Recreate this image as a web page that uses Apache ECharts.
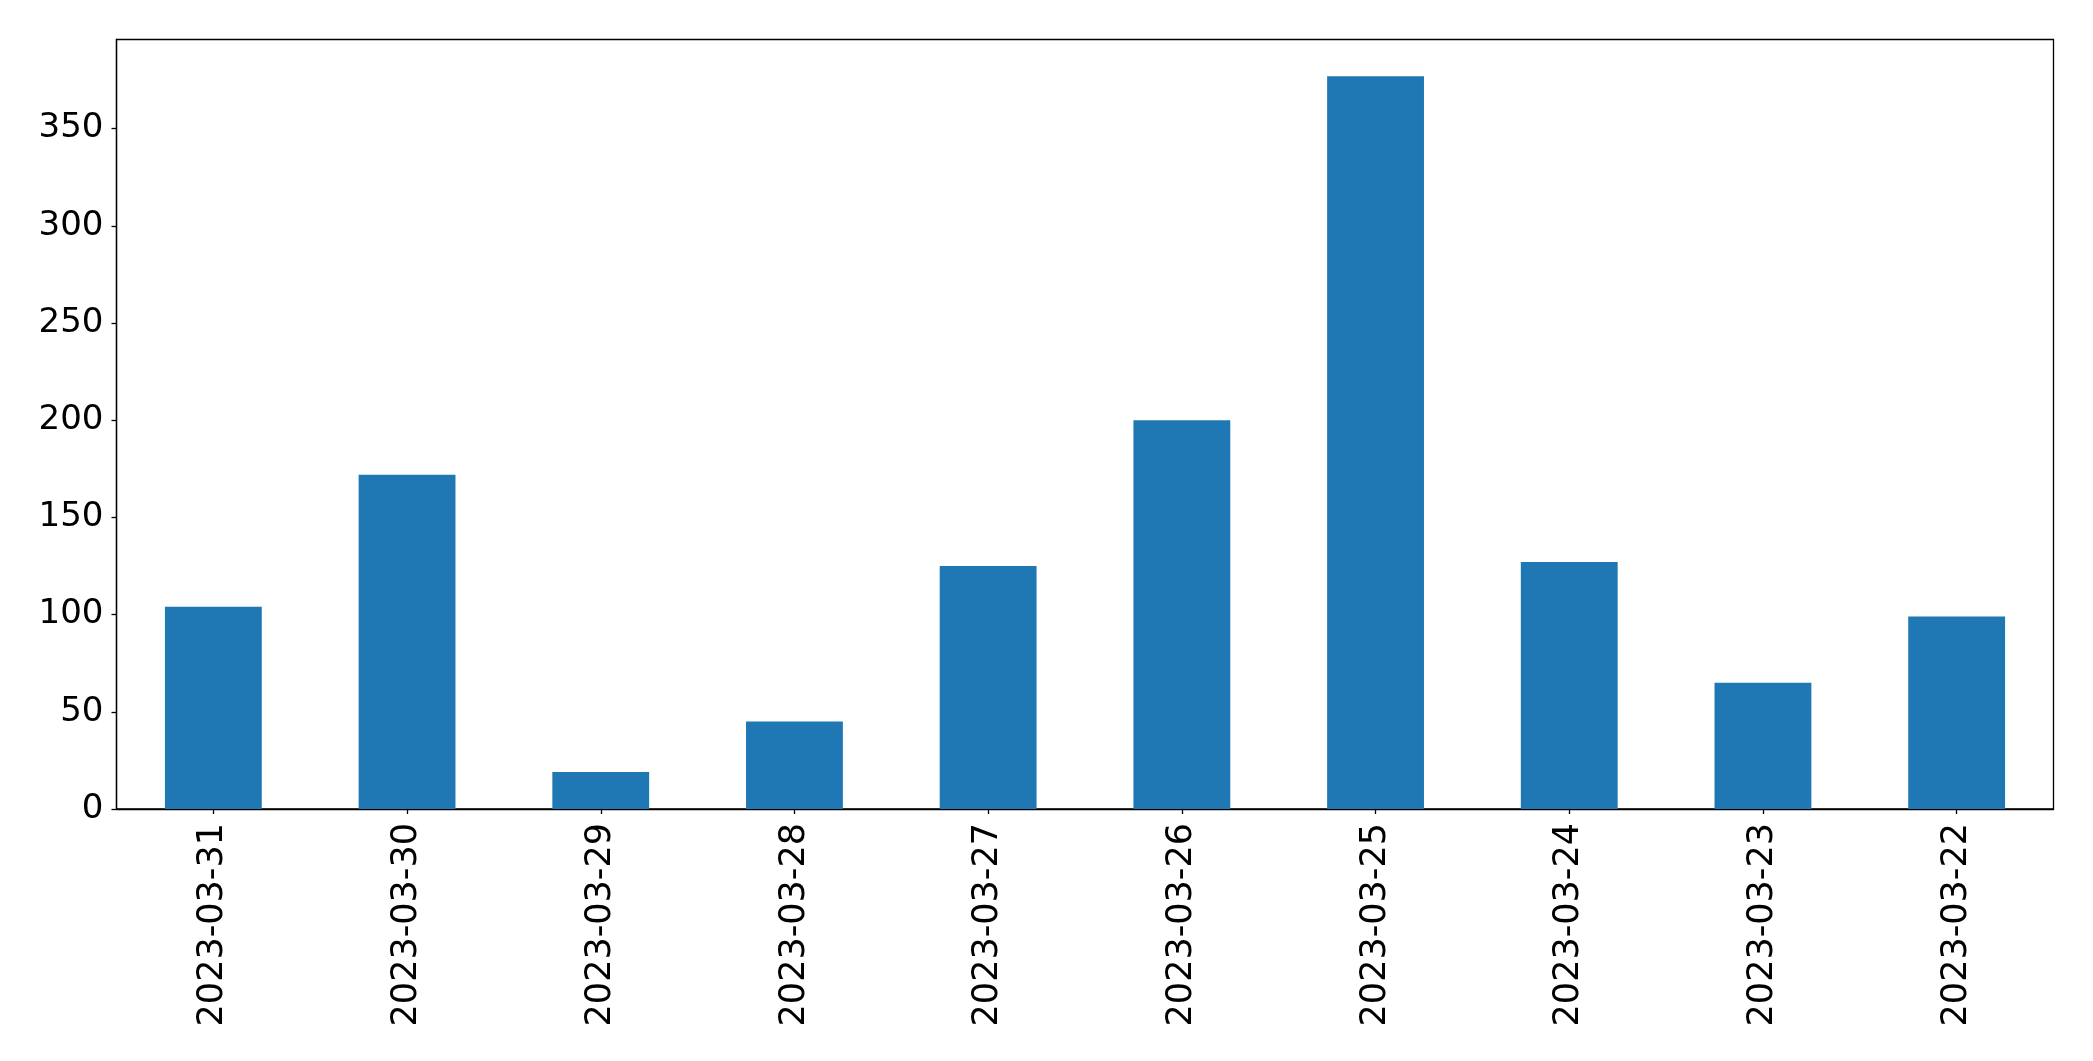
<!DOCTYPE html>
<html>
<head>
<meta charset="utf-8">
<script src="https://cdn.jsdelivr.net/npm/echarts@6/dist/echarts.min.js"></script>
<style>html,body{margin:0;padding:0;background:#fff;}#c{width:2093px;height:1061px;}</style>
</head>
<body>
<div id="c"></div>
<script>
const categories = ['2023-03-31','2023-03-30','2023-03-29','2023-03-28','2023-03-27','2023-03-26','2023-03-25','2023-03-24','2023-03-23','2023-03-22'];
const values = [104, 172, 19, 45, 125, 200, 377, 127, 65, 99];
const yMax = 395.85;
const yInterval = 50;

const chart = echarts.init(document.getElementById('c'), null, {renderer: 'canvas'});
chart.setOption({
  animation: false,
  backgroundColor: '#ffffff',
  grid: {left: 116.5, right: 39.5, top: 39.5, bottom: 252, show: true, borderColor: '#000', borderWidth: 1.3, backgroundColor: 'transparent'},
  xAxis: {
    type: 'category',
    data: categories,
    axisLine: {show: true, lineStyle: {color: '#000', width: 1.3}},
    axisTick: {show: true, alignWithLabel: true, length: 5, lineStyle: {color: '#000', width: 1.3}},
    axisLabel: {rotate: 90, margin: 14, color: '#000', fontSize: 35, fontFamily: 'DejaVu Sans', interval: 0},
    splitLine: {show: false}
  },
  yAxis: {
    type: 'value',
    min: 0,
    max: yMax,
    interval: yInterval,
    axisLine: {show: true, lineStyle: {color: '#000', width: 1.3}},
    axisTick: {show: true, length: 5, lineStyle: {color: '#000', width: 1.3}},
    axisLabel: {color: '#000', fontSize: 34, fontFamily: 'DejaVu Sans', margin: 13, showMaxLabel: false},
    splitLine: {show: false}
  },
  series: [{
    type: 'bar',
    data: values,
    barWidth: '50%',
    itemStyle: {color: '#1f77b4'}
  }]
});
</script>
</body>
</html>
